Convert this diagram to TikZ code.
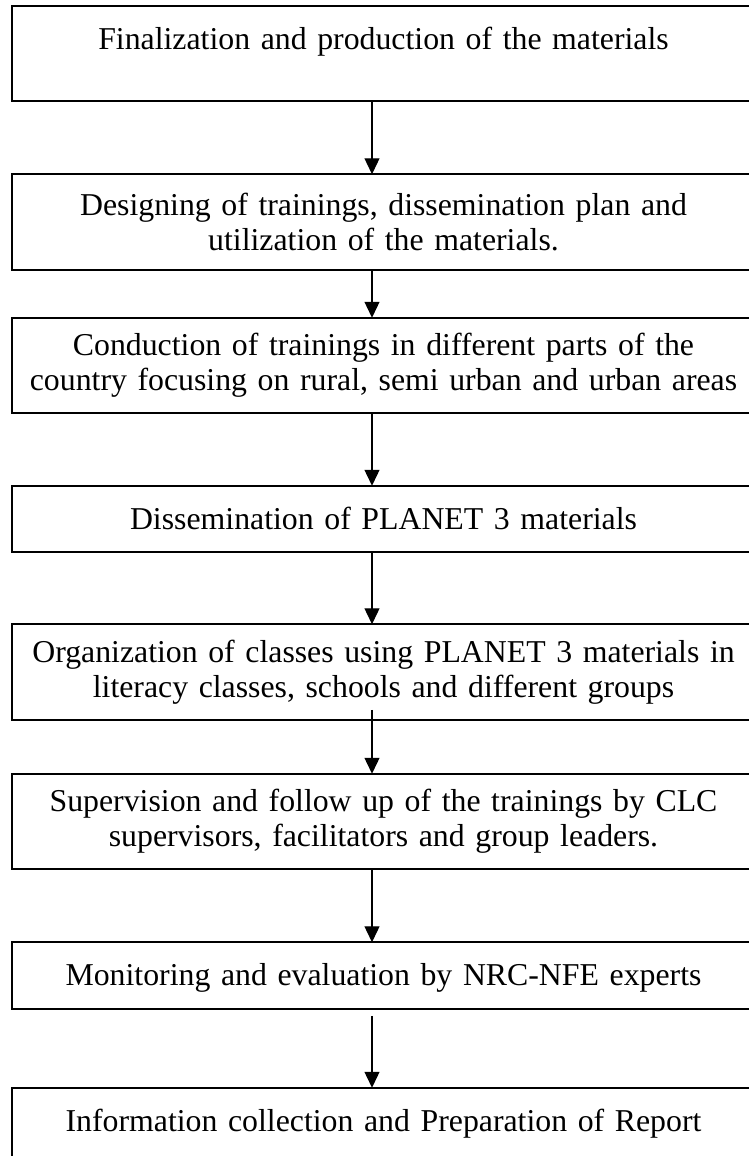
\documentclass[tikz,border=0pt]{standalone}
\usepackage{fontspec}
\setmainfont{Liberation Serif}
\usetikzlibrary{arrows.meta}
\begin{document}
\begin{tikzpicture}[x={(0.5pt,0pt)},y={(0pt,-0.5pt)},every node/.style={outer sep=0pt},
  stepbox/.style={draw,line width=0.85pt,inner sep=0pt,text width=371.5pt,align=center,font=\fontsize{15.9}{17.5}\selectfont},
  tall/.style={minimum height=47.75pt},
  lifted/.style={text height=11pt,text depth=14.75pt},
  low/.style={minimum height=33.25pt,text height=11pt,text depth=0.75pt},
  flow/.style={line width=0.67pt,-{Triangle[width=7.5pt,length=8pt]}}]

\clip (0,0) rectangle (749,1156);

\node[stepbox,tall,lifted] (fin) at (383.5,53.5) {Finalization and production of the materials};
\node[stepbox,tall] (design) at (383.5,222) {Designing of trainings, dissemination plan and\\ utilization of the materials.};
\node[stepbox,tall] (conduct) at (383.5,365.5) {Conduction of trainings in different parts of the\\ country focusing on rural, semi urban and urban areas};
\node[stepbox,low] (dissem) at (383.5,519) {Dissemination of PLANET 3 materials};
\node[stepbox,tall] (organize) at (383.5,672) {Organization of classes using PLANET 3 materials in\\ literacy classes, schools and different groups};
\node[stepbox,tall] (superv) at (383.5,821.5) {Supervision and follow up of the trainings by CLC\\ supervisors, facilitators and group leaders.};
\node[stepbox,low] (monitor) at (383.5,975.5) {Monitoring and evaluation by NRC-NFE experts};
\node[stepbox,tall,lifted] (report) at (383.5,1135.5) {Information collection and Preparation of Report};

\coordinate (ax) at (372,0);
\draw[flow] (fin.south -| ax) -- (design.north -| ax);
\draw[flow] (design.south -| ax) -- (conduct.north -| ax);
\draw[flow] (conduct.south -| ax) -- (dissem.north -| ax);
\draw[flow] (dissem.south -| ax) -- (organize.north -| ax);
\draw[flow] ([yshift=5pt]organize.south -| ax) -- (superv.north -| ax);
\draw[flow] (superv.south -| ax) -- (monitor.north -| ax);
\draw[flow] ([yshift=-3.5pt]monitor.south -| ax) -- (report.north -| ax);
\end{tikzpicture}
\end{document}
